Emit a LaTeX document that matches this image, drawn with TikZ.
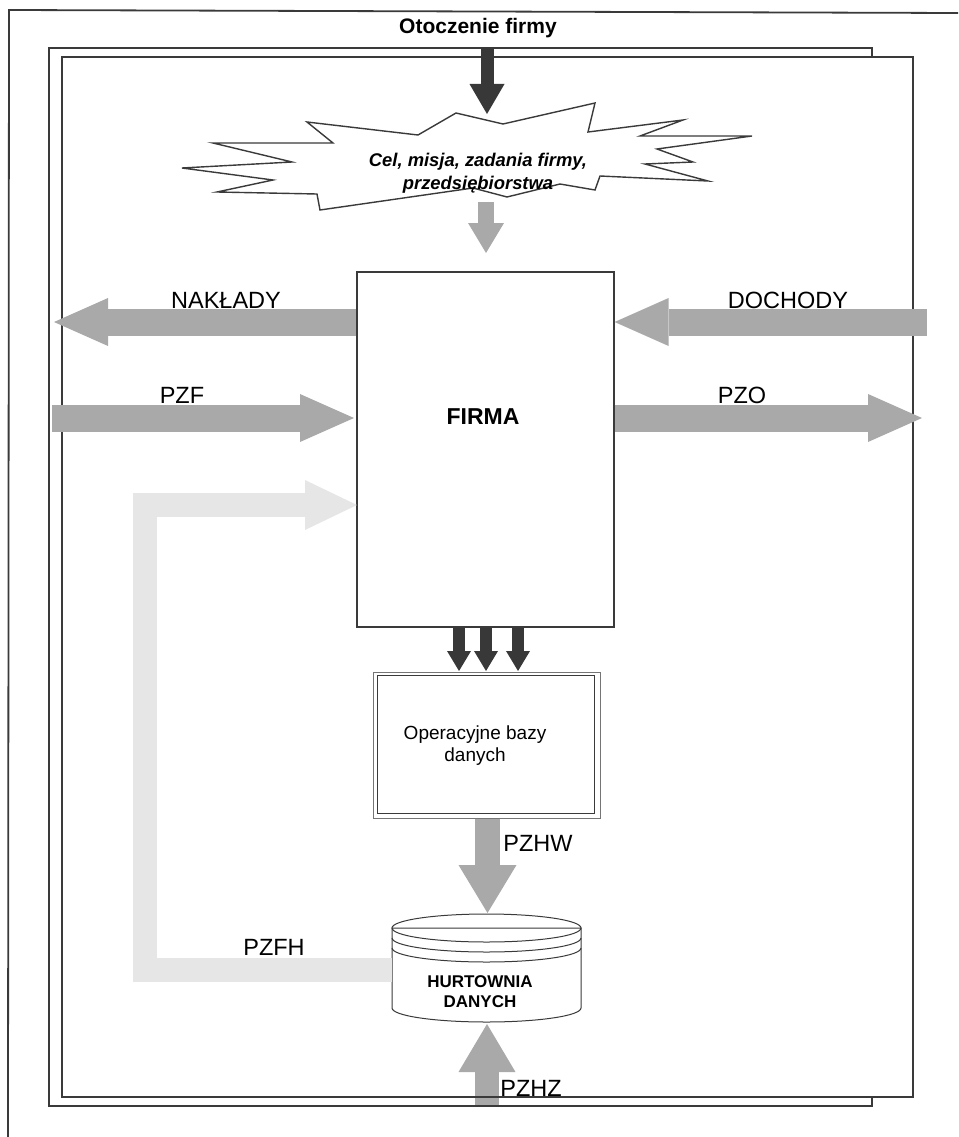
\documentclass[tikz,border=0pt]{standalone}
\usepackage{fontspec}
\setmainfont{Liberation Sans}
\usetikzlibrary{arrows.meta,calc}

\definecolor{framec}{HTML}{3A3A3A}
\definecolor{flowgray}{HTML}{A9A9A9}
\definecolor{lightflow}{HTML}{E6E6E6}
\definecolor{darkflow}{HTML}{383838}

\begin{document}
\begin{tikzpicture}[x=1pt,y=-1pt,
  frame/.style={draw=framec, line width=1.8pt},
  fatarrow/.style n args={4}{draw=#1, line width=#2, line cap=butt, line join=miter,
    -{Triangle[width=#3,length=#4,line width=0pt]}},
  sidearrow/.style={fatarrow={flowgray}{27pt}{48pt}{54pt}},
  toparrow/.style={fatarrow={darkflow}{13pt}{35pt}{30pt}},
  goalarrow/.style={fatarrow={flowgray}{16pt}{36pt}{30pt}},
  smallarrow/.style={fatarrow={darkflow}{12pt}{24pt}{20pt}},
  vertarrow/.style={fatarrow={flowgray}{25pt}{58pt}{48pt}},
  feedback/.style={fatarrow={lightflow}{24pt}{50pt}{52pt}},
  lbl/.style={font=\fontsize{23.5}{28}\selectfont, inner sep=0pt},
  boxnode/.style={draw=framec, line width=1.2pt, fill=white, inner sep=0pt},
  cylline/.style={draw=framec, line width=1pt},
]
\useasboundingbox (0,0) rectangle (958,1137);

% inflow from the environment into the warehouse (drawn under the frame lines)
\coordinate (pzhzBase) at (487,1106);
\coordinate (pzhzTip) at (487,1024);
\draw[fatarrow={flowgray}{24pt}{57pt}{48pt}] (pzhzBase) -- (pzhzTip);

% page frame and the two stacked sheets
\draw[frame] (8,1137) -- (9,10) -- (958,13);
\draw[frame] (872,57) -- (872,48) -- (49,48) -- (49,1106) -- (872,1106) -- (872,1097);
\draw[frame] (62,57) rectangle (913,1097);

% environment heading
\node[font=\fontsize{21}{25}\selectfont\bfseries, inner sep=0pt] (env) at (478,28) {Otoczenie firmy};

% goals starburst
\filldraw[fill=white, draw=framec, line width=1.4pt]
  (307,122) -- (418,135) -- (456,113) -- (503,124) -- (595,103) -- (588,132)
  -- (683,120) -- (640,136) -- (752,136) -- (657,149) -- (693,162) -- (645,164)
  -- (708,181) -- (600,176) -- (595,190) -- (560,184) -- (507,197) -- (473,188)
  -- (320,210) -- (317,194) -- (217,192) -- (273,180) -- (182,168) -- (292,162)
  -- (213,143) -- (333,143) -- cycle;
\node[font=\fontsize{18.4}{23}\selectfont\bfseries\itshape, align=center, inner sep=0pt]
  (goal) at (478,173) {Cel, misja, zadania firmy,\\przedsiębiorstwa};

\coordinate (envStart) at (487,47);
\coordinate (goalTop) at (487,114);
\draw[toparrow] (envStart) -- (goalTop);

\coordinate (goalOut) at (486,202);
\coordinate (goalIn) at (486,253);
\draw[goalarrow] (goalOut) -- (goalIn);

% the company
\node[boxnode, minimum width=257pt, minimum height=355pt] (firma) at (485.5,449.5) {};
\node[font=\fontsize{23}{27}\selectfont\bfseries, inner sep=0pt] (firmaName) at (483,417) {FIRMA};

% flows at the sides of the company
\coordinate (nakTip) at (54,322);
\draw[sidearrow] (firma.west |- nakTip) -- (nakTip);
\node[lbl] (nak) at (226,300) {NAKŁADY};

\coordinate (dochStart) at (927,322);
\draw[sidearrow] (dochStart) -- (firma.east |- dochStart);
\node[lbl] (doch) at (788,300) {DOCHODY};

\coordinate (pzfStart) at (52,418);
\coordinate (pzfTip) at (354,418);
\draw[sidearrow] (pzfStart) -- (pzfTip);
\node[lbl] (pzf) at (182,395) {PZF};

\coordinate (pzoTip) at (922,418);
\draw[sidearrow] (firma.east |- pzoTip) -- (pzoTip);
\node[lbl] (pzo) at (742,395) {PZO};

% operational databases
\node[draw=framec!70, line width=1pt, fill=white, minimum width=227pt, minimum height=146pt,
  inner sep=0pt] (ops) at (486.5,745) {};
\draw[framec, line width=1.1pt] ($(ops.north west)+(5,4)$) rectangle ($(ops.south east)+(-6,-5)$);
\node[font=\fontsize{19}{22}\selectfont, align=center, inner sep=0pt] (opsText) at (475,746)
  {Operacyjne bazy\\danych};

\foreach \xx [count=\i] in {459,486,518} {
  \coordinate (dn\i) at (\xx,671);
  \draw[smallarrow] (firma.south -| dn\i) -- (dn\i);
}

% data warehouse cylinder (y grows downwards, so lower arcs run through 90 degrees)
\node[minimum width=189pt, minimum height=110pt, inner sep=0pt] (hurt) at (486.5,968) {};
\filldraw[cylline, fill=white] (392,928) -- (392,1008)
  arc[start angle=180, end angle=0, x radius=94.5, y radius=14] -- (581,928) -- cycle;
\draw[cylline] (486.5,928) ellipse [x radius=94.5, y radius=14];
\draw[cylline] (392,938) arc[start angle=180, end angle=0, x radius=94.5, y radius=14];
\draw[cylline] (392,948) arc[start angle=180, end angle=0, x radius=94.5, y radius=14];
\node[font=\fontsize{17}{20}\selectfont\bfseries, align=center, inner sep=0pt] (hurtText)
  at (480,992) {HURTOWNIA\\DANYCH};

\coordinate (pzhwTip) at (487.5,913);
\draw[vertarrow] (ops.south -| pzhwTip) -- (pzhwTip);
\node[lbl] (pzhw) at (538,843) {PZHW};

% feedback from the warehouse to the company
\coordinate (fbTurn1) at (145,969.5);
\coordinate (fbTurn2) at (145,505);
\coordinate (fbTip) at (357,505);
\draw[feedback] (hurt.west |- fbTurn1) -- (fbTurn1) -- (fbTurn2) -- (fbTip);
\node[lbl] (pzfh) at (274,947) {PZFH};

\node[lbl] (pzhz) at (531,1088) {PZHZ};
\end{tikzpicture}
\end{document}
